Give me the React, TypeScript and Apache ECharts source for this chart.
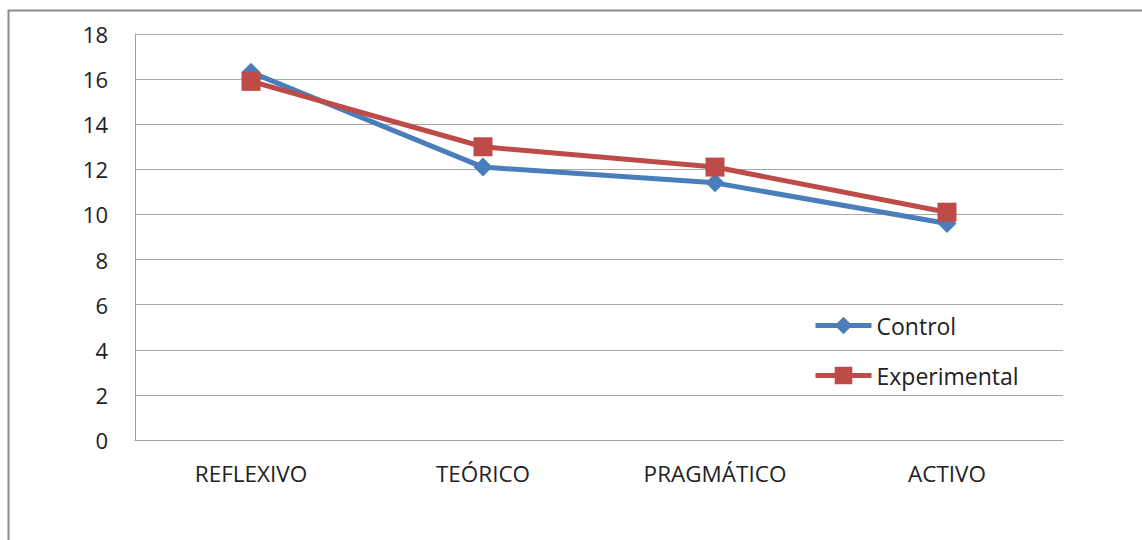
import React, { useEffect, useRef } from "react";
import * as echarts from "echarts";

const categories = ["REFLEXIVO", "TEÓRICO", "PRAGMÁTICO", "ACTIVO"];
const controlValues = [16.3, 12.1, 11.4, 9.6];
const experimentalValues = [15.9, 13.0, 12.1, 10.1];
const yMin = 0;
const yMax = 18;
const yInterval = 2;

export default function App() {
  const ref = useRef<HTMLDivElement>(null);
  useEffect(() => {
    if (!ref.current) return;
    const chart = echarts.init(ref.current, null, { renderer: "svg" });
    const font = "'Open Sans', 'Noto Sans', sans-serif";
    chart.setOption({
      animation: false,
      backgroundColor: "#ffffff",
      textStyle: { fontFamily: font },
      graphic: [
        {
          type: "rect",
          shape: { x: 8.5, y: 10.5, width: 1200, height: 600 },
          style: { fill: "none", stroke: "#8c8c8c", lineWidth: 2 },
          silent: true,
        },
      ],
      grid: { left: 135, top: 34, right: 79, bottom: 100, containLabel: false },
      xAxis: {
        type: "category",
        data: categories,
        boundaryGap: true,
        axisLine: { show: true, lineStyle: { color: "#a0a0a0", width: 1 } },
        axisTick: { show: false },
        axisLabel: { color: "#222", fontSize: 22.5, margin: 22, fontFamily: font },
        splitLine: { show: false },
      },
      yAxis: {
        type: "value",
        min: yMin,
        max: yMax,
        interval: yInterval,
        axisLine: { show: true, lineStyle: { color: "#a0a0a0", width: 1 } },
        axisTick: { show: false },
        axisLabel: { color: "#222", fontSize: 22, margin: 27, fontFamily: font },
        splitLine: { show: true, lineStyle: { color: "#a8a8a8", width: 1 } },
      },
      legend: {
        orient: "vertical",
        left: 808,
        top: 309,
        itemWidth: 56,
        itemHeight: 22,
        itemGap: 27,
        lineStyle: { width: 5 },
        textStyle: { color: "#222", fontSize: 23, fontFamily: font },
        data: ["Control", "Experimental"],
      },
      series: [
        {
          name: "Control",
          type: "line",
          data: controlValues,
          symbol: "diamond",
          symbolSize: 19,
          lineStyle: { color: "#4A7EBB", width: 5 },
          itemStyle: { color: "#4A7EBB" },
          z: 2,
        },
        {
          name: "Experimental",
          type: "line",
          data: experimentalValues,
          symbol: "rect",
          symbolSize: 19,
          lineStyle: { color: "#BE4B48", width: 5 },
          itemStyle: { color: "#BE4B48" },
          z: 3,
        },
      ],
    });
    return () => chart.dispose();
  }, []);
  return (
    <div
      ref={ref}
      style={{ position: "fixed", left: 0, top: 0, width: 1142, height: 540 }}
    />
  );
}
